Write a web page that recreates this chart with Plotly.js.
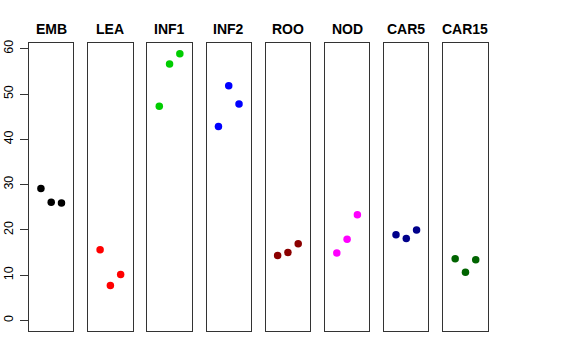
<!DOCTYPE html>
<html><head><meta charset="utf-8">
<script src="https://cdn.plot.ly/plotly-3.0.1.min.js"></script>
<style>html,body{margin:0;padding:0;background:#fff}#chart{width:576px;height:360px}</style>
</head><body><div id="chart"></div>
<script>
const panels = ["EMB","LEA","INF1","INF2","ROO","NOD","CAR5","CAR15"];
const colors = ["#000000","#FF0000","#00CD00","#0000FF","#8B0000","#FF00FF","#00008B","#006400"];
const xpos = [1,2,3];
const EMB = [29.15,26.1,25.9];
const LEA = [15.6,7.7,10.15];
const INF1 = [47.3,56.6,58.9];
const INF2 = [42.8,51.8,47.8];
const ROO = [14.35,15.0,16.9];
const NOD = [14.9,17.9,23.3];
const CAR5 = [18.9,18.1,19.95];
const CAR15 = [13.6,10.6,13.4];
const series = [EMB,LEA,INF1,INF2,ROO,NOD,CAR5,CAR15];
const yTicks = [0,10,20,30,40,50,60];

const W=576,H=360;
const traces=[]; const layout={width:W,height:H,margin:{l:0,r:0,t:0,b:0},showlegend:false,
  paper_bgcolor:'#fff',plot_bgcolor:'#fff',font:{family:'Liberation Sans, Arial, sans-serif',color:'#000'},annotations:[]};
const y0=1-331/H, y1=1-43.3/H;
for(let i=0;i<panels.length;i++){
  const s=i===0?'':String(i+1);
  traces.push({x:xpos,y:series[i],type:'scatter',mode:'markers',xaxis:'x'+s,yaxis:'y'+s,
    marker:{color:colors[i],size:7.5,line:{width:0}},hoverinfo:'skip'});
  const left=29+i*59.18, right=left+44.4;
  layout['xaxis'+s]={domain:[left/W,right/W],range:[-0.16,4.16],showticklabels:false,ticks:'',showgrid:false,zeroline:false,
    showline:true,mirror:true,linecolor:'#333',linewidth:1,anchor:'y'+s,fixedrange:true};
  layout['yaxis'+s]={domain:[y0,y1],range:[-2.354,61.2],showgrid:false,zeroline:false,showline:true,mirror:true,
    linecolor:'#333',linewidth:1,anchor:'x'+s,showticklabels:i===0,ticks:i===0?'outside':'',ticklen:8,tickcolor:'#333',
    tickvals:yTicks,ticktext:yTicks.map(String),tickangle:-90,ticklabelstandoff:2,tickfont:{size:12.5,color:'#000'},fixedrange:true};
  layout.annotations.push({text:'<b>'+panels[i]+'</b>',xref:'paper',yref:'paper',x:(left+right)/2/W,y:1-29/H,
    xanchor:'center',yanchor:'middle',showarrow:false,font:{size:14,color:'#000'}});
}
Plotly.newPlot('chart',traces,layout,{staticPlot:true});
</script></body></html>
